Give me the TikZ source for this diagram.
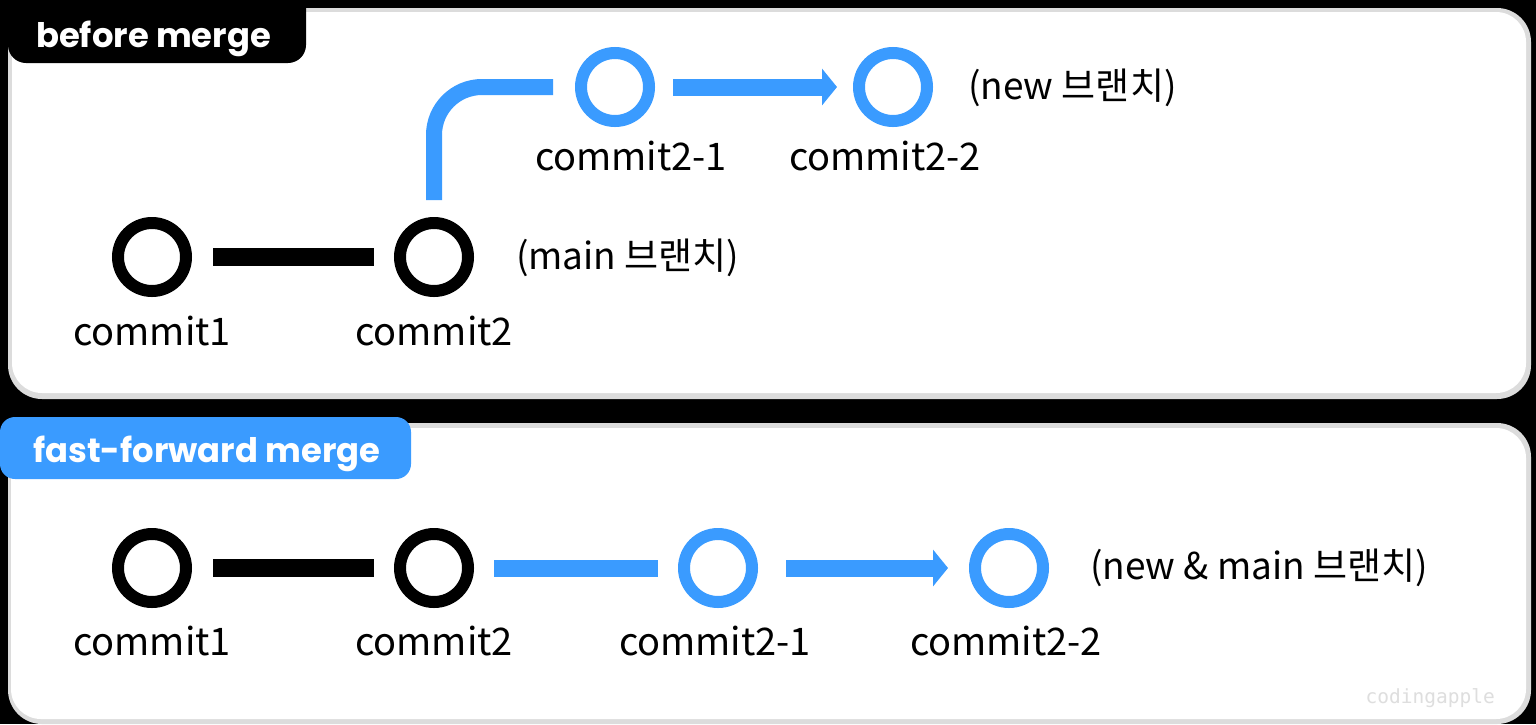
\documentclass[tikz,border=0pt]{standalone}
\usepackage{fontspec}
\setmainfont{Noto Sans CJK KR}
\newfontfamily\tabfont{Poppins}
\newfontfamily\wmfont{DejaVu Sans Mono}
\usetikzlibrary{arrows.meta}
\definecolor{gitblue}{RGB}{58,155,255}
\definecolor{panelgrey}{RGB}{220,220,220}
\definecolor{wmgrey}{RGB}{222,222,222}
\tikzset{
  commitnode/.style={circle, draw, line width=12pt, minimum size=68pt, inner sep=0pt},
  blackcommit/.style={commitnode, draw=black},
  bluecommit/.style={commitnode, draw=gitblue},
  lbl/.style={font=\fontsize{38}{40}\selectfont, anchor=base, inner sep=0pt},
  brlbl/.style={font=\fontsize{37}{40}\selectfont, anchor=west, inner sep=0pt},
  blackedge/.style={draw=black, line width=18pt, shorten <=21pt, shorten >=20pt},
  blueedge/.style={draw=gitblue, line width=17pt, shorten <=20pt, shorten >=20pt},
  bluearrow/.style={blueedge, shorten >=17pt, -{Triangle[length=15pt,width=36pt]}},
  tabtext/.style={font=\tabfont\bfseries\fontsize{33.8}{36}\selectfont, text=white, anchor=base west, inner sep=0pt},
}
\begin{document}
\begin{tikzpicture}[x=1pt,y=-1pt]
\useasboundingbox (0,0) rectangle (1536,724);
\fill[black] (0,0) rectangle (1536,724);
% panels
\fill[panelgrey, rounded corners=34pt] (8,8) rectangle (1531,399);
\fill[white, rounded corners=30pt] (12,12) rectangle (1526,393);
\fill[panelgrey, rounded corners=34pt] (8,423) rectangle (1531,724);
\fill[white, rounded corners=30pt] (11,428) rectangle (1526,719);
% tabs
\fill[black, rounded corners=18pt] (8,-30) rectangle (306,63);
\node[tabtext] (t1) at (36,47) {before merge};
\fill[gitblue, rounded corners=15pt] (0,417) rectangle (411,479);
\node[tabtext] (t2) at (33,462) {fast-forward merge};
% before merge
\node[blackcommit] (a1) at (152,257) {};
\node[blackcommit] (a2) at (434,257) {};
\node[bluecommit] (a3) at (615,87) {};
\node[bluecommit] (a4) at (893,87) {};
\draw[blackedge] (a1) -- (a2);
\draw[draw=gitblue, line width=16pt, rounded corners=48pt, shorten <=17pt, shorten >=22pt] (a2.north) |- (a3.west);
\draw[bluearrow, shorten <=18pt, shorten >=16pt] (a3) -- (a4);
\node[lbl] (la1) at (152,345) {commit1};
\node[lbl] (la2) at (434,345) {commit2};
\node[lbl] (la3) at (631,170) {commit2-1};
\node[lbl] (la4) at (885,170) {commit2-2};
\node[brlbl] (br1) at (516,258) {(main 브랜치)};
\node[brlbl] (br2) at (968,88) {(new 브랜치)};
% fast-forward merge
\node[blackcommit] (b1) at (152,568) {};
\node[blackcommit] (b2) at (434,568) {};
\node[bluecommit] (b3) at (718,568) {};
\node[bluecommit] (b4) at (1009,568) {};
\draw[blackedge] (b1) -- (b2);
\draw[blueedge] (b2) -- (b3);
\draw[bluearrow, shorten <=28pt, shorten >=21pt] (b3) -- (b4);
\node[lbl] (lb1) at (152,655) {commit1};
\node[lbl] (lb2) at (434,655) {commit2};
\node[lbl] (lb3) at (715,655) {commit2-1};
\node[lbl] (lb4) at (1006,655) {commit2-2};
\node[brlbl] (br3) at (1090,568) {(new \& main 브랜치)};
\node[font=\wmfont\fontsize{19.5}{20}\selectfont, text=wmgrey, anchor=base east, inner sep=0pt] (wm) at (1495,703) {codingapple};
\end{tikzpicture}
\end{document}
